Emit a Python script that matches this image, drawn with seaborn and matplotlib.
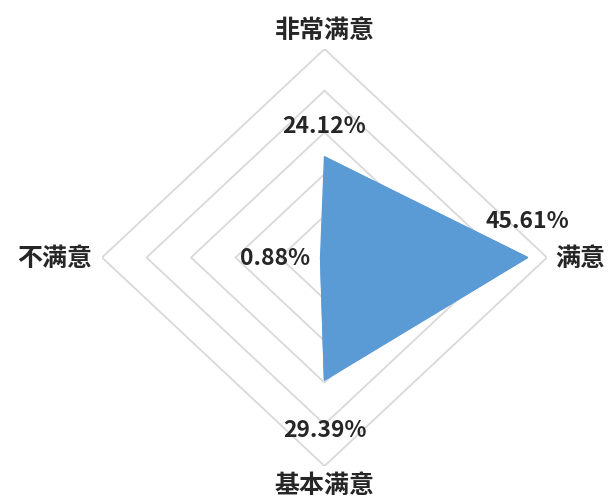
import numpy as np
import pandas as pd
import matplotlib
matplotlib.use('Agg')
import matplotlib.pyplot as plt
import seaborn as sns

# satisfaction survey shares (%)
categories = ['非常满意', '满意', '基本满意', '不满意']
values = [24.12, 45.61, 29.39, 0.88]
ring_levels = [10, 20, 30, 40, 50]

# offsets (pixels) for the value labels and the category labels
label_offsets = [(0, 31), (0, 37), (0, -49), (-46, 0)]
cat_offsets = [(0, 19), (8, 0), (0, -19), (-10, 0)]
cat_align = ['center', 'left', 'center', 'right']

sns.set_theme(style='white')
plt.rcParams['font.family'] = ['Noto Sans CJK SC', 'DejaVu Sans']

# clockwise from the top, like a radar chart
angles = np.linspace(0, 2 * np.pi, len(categories), endpoint=False)


def to_xy(r, a):
    return np.asarray(r) * np.sin(a), np.asarray(r) * np.cos(a)


df = pd.DataFrame({'category': categories, 'value': values, 'angle': angles})
df['x'], df['y'] = to_xy(df['value'], df['angle'])
closed = pd.concat([df, df.iloc[[0]]], ignore_index=True)
closed_angles = np.append(angles, angles[0])

fig = plt.figure(figsize=(6.09, 5.02), dpi=100)
ax = fig.add_axes([0.1675, 0.0697, 0.7307, 0.8307])

# diamond shaped grid
for lvl in ring_levels:
    gx, gy = to_xy([lvl] * len(closed_angles), closed_angles)
    ax.plot(gx, gy, color='#D9D9D9', lw=1.3, zorder=1)

ax.fill(closed['x'], closed['y'], color='#5B9BD5', zorder=2)
sns.lineplot(data=closed, x='x', y='y', sort=False, color='#5B9BD5',
             lw=1, ax=ax, zorder=3)

for (_, row), off in zip(df.iterrows(), label_offsets):
    ax.annotate(f"{row['value']:.2f}%", (row['x'], row['y']),
                xytext=off, textcoords='offset pixels', ha='center', va='center',
                fontsize=16.5, fontweight='bold', color='#262626')

ox, oy = to_xy([max(ring_levels)] * len(angles), angles)
for i, cat in enumerate(categories):
    ax.annotate(cat, (ox[i], oy[i]), xytext=cat_offsets[i], textcoords='offset pixels',
                ha=cat_align[i], va='center', fontsize=18, fontweight='bold',
                color='#262626', annotation_clip=False)

ax.set_xlim(-50, 50)
ax.set_ylim(-50, 50)
ax.set_xticks([])
ax.set_yticks([])
ax.set_xlabel('')
ax.set_ylabel('')
sns.despine(ax=ax, left=True, bottom=True)

fig.savefig('out.png', dpi=100)
